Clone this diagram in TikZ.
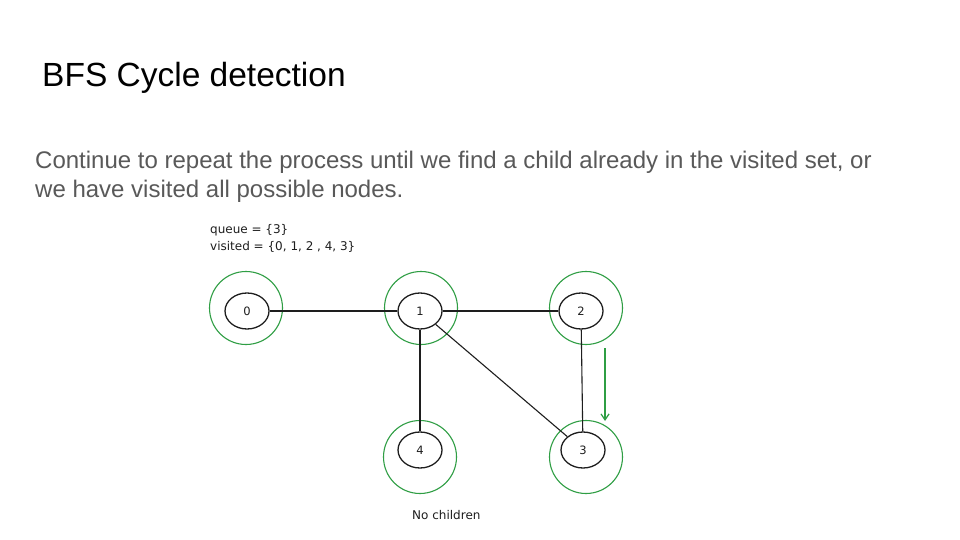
\documentclass[tikz,border=0pt]{standalone}
\usepackage{fontspec}
\setmainfont{Liberation Sans}
\newfontfamily\handfont{DejaVu Sans}
\usetikzlibrary{shapes.geometric,arrows.meta}
\definecolor{exgreen}{HTML}{2F9E44}
\definecolor{exblack}{HTML}{1E1E1E}
\definecolor{bodygray}{HTML}{595959}
\begin{document}
\begin{tikzpicture}[x=1pt,y=-1pt,
  vert/.style={draw=exblack,line width=1.3pt,ellipse,minimum width=44pt,minimum height=36pt,inner sep=0pt,font=\handfont\fontsize{11.5}{13}\selectfont,text=exblack},
  visit/.style={draw=exgreen,line width=1.1pt,circle,minimum size=73pt,inner sep=0pt},
  edge/.style={draw=exblack,line width=1.1pt},
  hand/.style={font=\handfont\fontsize{12}{13}\selectfont,text=exblack,inner sep=0pt},
  move/.style={draw=exgreen,line width=1.2pt,-{Straight Barb[length=6pt,width=8pt]}}]
\useasboundingbox[fill=white] (0,0) rectangle (960,540);
\node[anchor=base west,inner sep=0pt,font=\fontsize{33.5}{38}\selectfont] (title) at (42,87) {BFS Cycle detection};
\node[anchor=base west,inner sep=0pt,font=\fontsize{24}{29}\selectfont,text=bodygray] (body1) at (35,168) {Continue to repeat the process until we find a child already in the visited set, or};
\node[anchor=base west,inner sep=0pt,font=\fontsize{24}{29}\selectfont,text=bodygray] (body2) at (35,197) {we have visited all possible nodes.};
\node[hand,anchor=base west] (queue) at (210,233) {queue = \{3\}};
\node[hand,anchor=base west] (visited) at (210,250) {visited = \{0, 1, 2 , 4, 3\}};
% green visited rings
\node[visit] (g0) at (246,308) {};
\node[visit] (g1) at (421,308) {};
\node[visit] (g2) at (586,308) {};
\node[visit] (g4) at (420,457) {};
\node[visit] (g3) at (586,457) {};
% vertices
\node[vert] (n0) at (247,311) {0};
\node[vert] (n1) at (420,311) {1};
\node[vert] (n2) at (581,311) {2};
\node[vert] (n4) at (420,450) {4};
\node[vert] (n3) at (583,450) {3};
% edges
\draw[edge] (n0) -- (n1);
\draw[edge] (n1) -- (n2);
\draw[edge] (n1) -- (n4);
\draw[edge] (n1) -- (n3);
\draw[edge] (n2) -- (n3);
% move arrow
\coordinate (a1) at (605,348);
\coordinate (a2) at (605,421);
\draw[move] (a1) -- (a2);
\node[hand,anchor=base west] (nochild) at (412,519) {No children};
\end{tikzpicture}
\end{document}
